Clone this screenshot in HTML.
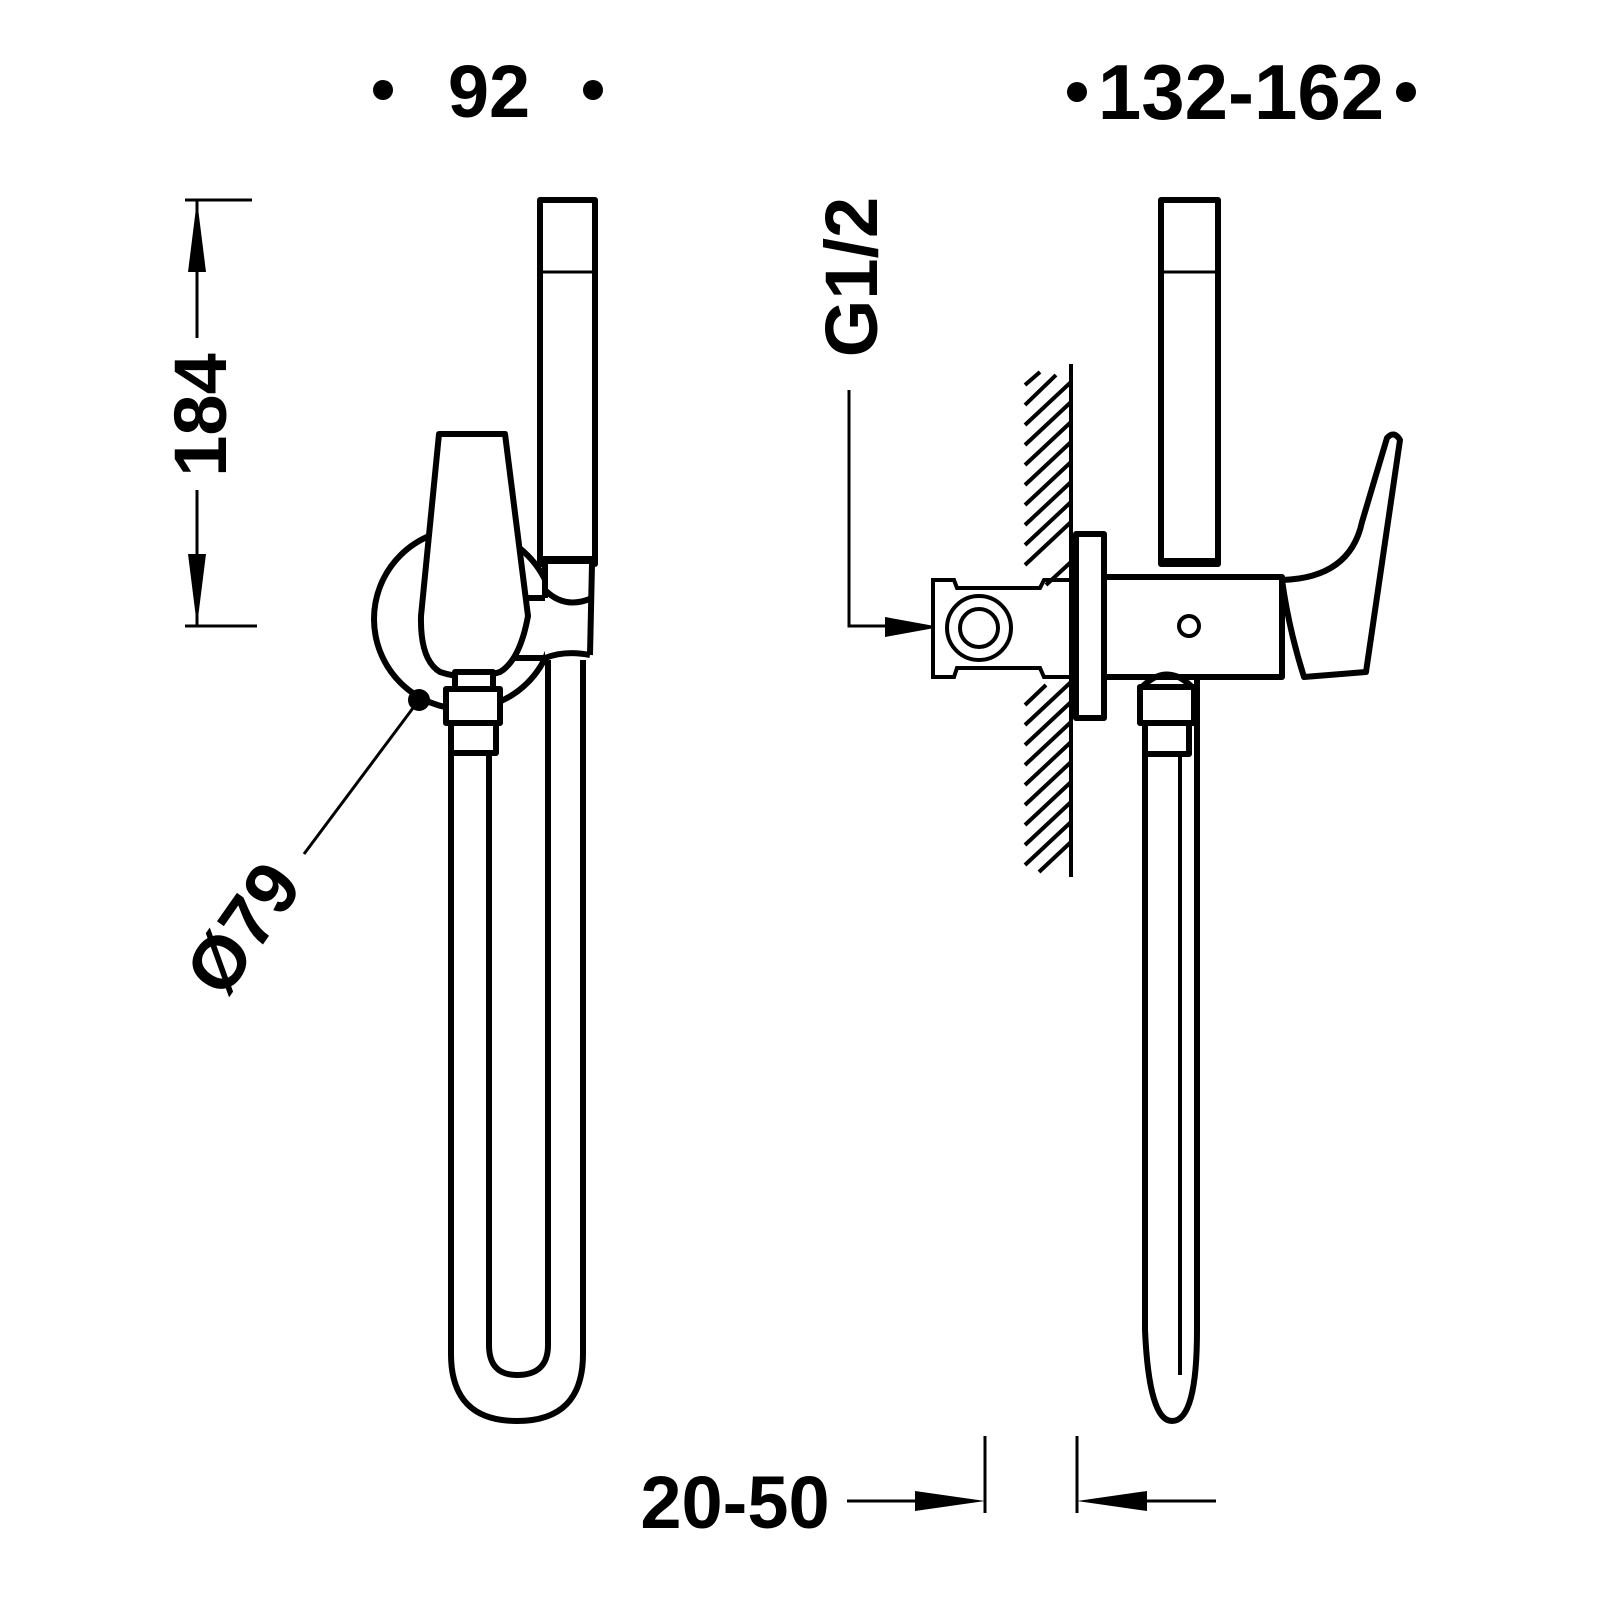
<!DOCTYPE html>
<html><head><meta charset="utf-8"><style>html,body{margin:0;padding:0;background:#fff}svg{display:block}</style></head>
<body>
<svg width="1600" height="1600" viewBox="0 0 1600 1600" xmlns="http://www.w3.org/2000/svg">
<g font-family="Liberation Sans, sans-serif" font-weight="bold" fill="#000">
<circle cx="383" cy="90" r="10"/><circle cx="593" cy="90" r="10"/>
<text x="489" y="117" font-size="74" text-anchor="middle">92</text>
<circle cx="1077" cy="92" r="10"/><circle cx="1406" cy="92" r="10"/>
<text x="1241" y="119" font-size="78" text-anchor="middle">132-162</text>
<text transform="translate(226,415) rotate(-90)" font-size="74" text-anchor="middle">184</text>
<text transform="translate(877,277) rotate(-90)" font-size="74" text-anchor="middle">G1/2</text>
<text transform="translate(264,943) rotate(-55)" font-size="74" text-anchor="middle">Ø79</text>
<text x="735" y="1528" font-size="74" text-anchor="middle">20-50</text>
</g>
<g fill="none" stroke="#000" stroke-width="3">
<line x1="185" y1="200" x2="252" y2="200"/><line x1="185" y1="626" x2="257" y2="626"/>
<line x1="197" y1="200" x2="197" y2="338"/><line x1="197" y1="490" x2="197" y2="626"/>
<polyline points="849,390 849,626 900,626"/>
<line x1="847" y1="1501" x2="945" y2="1501"/><line x1="985" y1="1436" x2="985" y2="1513"/>
<line x1="1077" y1="1436" x2="1077" y2="1513"/><line x1="1095" y1="1501" x2="1216" y2="1501"/>
<line x1="419" y1="700" x2="304" y2="854"/>
</g>
<g fill="#000">
<polygon points="197,200 188,272 206,272"/><polygon points="197,626 188,554 206,554"/>
<polygon points="940,627 885,617 885,637"/>
<polygon points="985,1501 915,1491 915,1511"/><polygon points="1077,1501 1147,1491 1147,1511"/>
</g>
<g fill="none" stroke="#000" stroke-width="6" stroke-linejoin="round">
<circle cx="464" cy="619" r="90"/>
<rect x="540" y="200" width="55" height="364" fill="#fff"/>
<line x1="540" y1="272" x2="595" y2="272" stroke-width="3"/>
<line x1="540" y1="560" x2="595" y2="560" stroke-width="8"/>
<path d="M545,564 L545,660 L590,660 L592,564 Z" fill="#fff" stroke="none"/>
<line x1="545" y1="564" x2="545" y2="598"/>
<path d="M545,590 Q565,610 592,598"/>
<line x1="592" y1="564" x2="590" y2="655"/>
<path d="M510,658 L545,658 Q565,650 590,655"/>
<line x1="525" y1="598" x2="545" y2="598"/>
<path d="M439,434 L505,434 L528,616 Q520,660 500,672 Q470,682 440,672 Q420,660 421,616 Z" fill="#fff"/>
<rect x="455" y="672" width="38" height="17" fill="#fff"/>
<rect x="446" y="689" width="54" height="34" fill="#fff"/>
<rect x="451" y="723" width="45" height="30" fill="#fff"/>
<path d="M451,753 L451,1354 Q451,1421 517,1421 Q583,1421 583,1354 L583,660"/>
<path d="M489,753 L489,1345 Q489,1375 517,1375 Q548,1375 548,1345 L548,660"/>
</g>
<circle cx="419" cy="700" r="11" fill="#000"/>
<g transform="translate(-6,0)">
<g fill="none" stroke="#000" stroke-width="6" stroke-linejoin="round">
<rect x="1167" y="200" width="57" height="364"/>
<line x1="1167" y1="272" x2="1224" y2="272" stroke-width="3"/>
<line x1="1167" y1="562" x2="1224" y2="562" stroke-width="8"/>
<rect x="1082" y="534" width="28" height="184"/>
<rect x="1110" y="577" width="178" height="100"/>
<circle cx="1195" cy="626" r="10" stroke-width="4"/>
<path d="M1288,580 Q1356,578 1368,522 L1393,438 Q1400,430 1406,440 L1372,672 L1310,677 Q1295,630 1288,580 Z" fill="#fff"/>
<path d="M1148,687 Q1173,662 1198,687"/>
<rect x="1146" y="687" width="54" height="36"/>
<rect x="1151" y="723" width="44" height="31"/>
<path d="M1151,754 L1151,1330 Q1155,1421 1178,1421 Q1203,1421 1203,1330 L1203,677"/>
<line x1="1186" y1="754" x2="1186" y2="1375" stroke-width="4"/>
</g>
<g fill="none" stroke="#000" stroke-width="4">
<line x1="1077" y1="364" x2="1077" y2="877"/>
<path d="M939,580 L960,580 L963,588 L1046,588 L1050,580 L1077,580 L1077,677 L1050,677 L1046,668 L963,668 L960,677 L939,677 Z" fill="#fff"/>
<circle cx="985" cy="628" r="32"/><circle cx="985" cy="628" r="19"/>
</g>
<g stroke="#000" stroke-width="4">
<line x1="1031" y1="385" x2="1046" y2="372"/>
<line x1="1031" y1="405" x2="1062" y2="375"/>
<line x1="1031" y1="425" x2="1077" y2="382"/>
<line x1="1031" y1="445" x2="1077" y2="402"/>
<line x1="1031" y1="465" x2="1077" y2="422"/>
<line x1="1031" y1="485" x2="1077" y2="442"/>
<line x1="1031" y1="505" x2="1077" y2="462"/>
<line x1="1031" y1="525" x2="1077" y2="482"/>
<line x1="1031" y1="545" x2="1077" y2="502"/>
<line x1="1031" y1="565" x2="1077" y2="522"/>
<line x1="1052" y1="585" x2="1077" y2="562"/>
<line x1="1031" y1="705" x2="1052" y2="685"/>
<line x1="1031" y1="725" x2="1077" y2="682"/>
<line x1="1031" y1="745" x2="1077" y2="702"/>
<line x1="1031" y1="765" x2="1077" y2="722"/>
<line x1="1031" y1="785" x2="1077" y2="742"/>
<line x1="1031" y1="805" x2="1077" y2="762"/>
<line x1="1031" y1="825" x2="1077" y2="782"/>
<line x1="1031" y1="845" x2="1077" y2="802"/>
<line x1="1031" y1="865" x2="1077" y2="822"/>
<line x1="1045" y1="872" x2="1077" y2="842"/>
</g>
</g>
</svg>
</body></html>
